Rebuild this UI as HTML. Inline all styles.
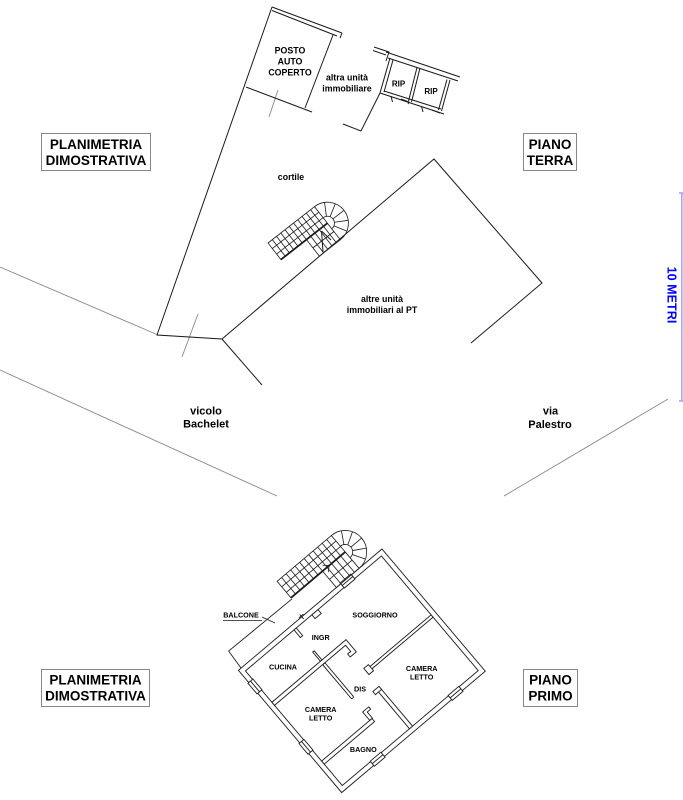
<!DOCTYPE html>
<html><head><meta charset="utf-8"><style>
html,body{margin:0;padding:0;background:#fff;}
svg{display:block;}
text{font-family:"Liberation Sans",Arial,sans-serif;font-weight:bold;fill:#000;}
</style></head><body>
<svg width="683" height="800" viewBox="0 0 683 800" xmlns="http://www.w3.org/2000/svg">
<rect width="683" height="800" fill="#fff"/>

<!-- ===== PIANO TERRA ===== -->
<g fill="none" stroke="#888" stroke-width="0.9">
  <path d="M0,267 L158,335"/>
  <path d="M0,370 L277,496"/>
  <path d="M504,496 L668,399"/>
  <path d="M278,90 L269,117"/>
  <path d="M198,314 L182,357"/>
</g>
<g fill="none" stroke="#1a1a1a" stroke-width="1">
  <path d="M272,7 L157,335 L222,339 L262,385"/>
  <path d="M272,7 L342,33 M272,10.5 L337,36 M342,33 L340,38"/>
  <path d="M333,35 L305,108"/>
  <path d="M246,87 L312,112"/>
  <path d="M222,339 L434,159 L542,283 L471,343"/>
  <!-- altra unita boundary -->
  <path d="M343,124 L361,131 L380,93"/>
  <!-- RIP block -->
  <path d="M374,47 L389,52 L386,61 M373,50.5 L386,55"/>
  <path d="M386,52 L460,77 M388,58 L458,81"/>
  <path d="M390,58 L380,93 M393,60 L384,92"/>
  <path d="M380,93 L444,114 M384,91 L441,109"/>
  <path d="M420,68 L411.5,102 M417,67.5 L408.5,101"/>
  <path d="M450,80 L441.5,111 M447,79.5 L438.5,110"/>
  <path d="M391,96 L392.5,102 M401,99 L409,102 L408,104 M421.5,106.5 L423,112 M432,110 L440,113"/>
  <!-- small arrow under stair -->
  <path d="M321.5,231 L323,252 M321.5,231 L331,240"/>
</g>

<!-- upper stair -->
<g transform="translate(268,243) rotate(-38)" fill="none" stroke="#1a1a1a" stroke-width="0.8">
  <path d="M0,0 H59 V21 H0 Z"/>
  <path d="M5.4,0V21M10.8,0V21M16.2,0V21M21.6,0V21M27,0V21M32.4,0V21M37.8,0V21M43.2,0V21M48.6,0V21M54,0V21"/>
  <path d="M0,7H59M0,14H59"/>
  <path d="M32.4,21V42H59V21M37.8,21V42M43.2,21V42M48.6,21V42M54,21V42M32.4,31.5H59"/>
  <path d="M59,0 A21,21 0 0 1 59,42"/>
  <path d="M59,14 A7,7 0 0 1 59,28"/>
  <path d="M62.5,14.9L69.5,2.8M65.1,17.5L77.2,10.5M66,21L80,21M65.1,24.5L77.2,31.5M62.5,27.1L69.5,39.2"/>
  <path d="M0,21H59" stroke-width="1.8"/>
</g>

<!-- ===== PIANO PRIMO building ===== -->
<g transform="translate(382,549) rotate(49.8)" fill="none" stroke="#1a1a1a" stroke-width="0.9">
  <rect x="0" y="0" width="160" height="188"/>
  <rect x="5" y="5" width="150" height="178"/>
  <!-- balcony -->
  <path d="M-20,101 L-21,183 L0,184.5"/>
  <!-- interior walls -->
  <g fill="#fff">
    <rect x="82" y="5" width="3" height="81"/>
    <rect x="79.5" y="85" width="8" height="6"/>
    <rect x="105" y="91" width="50" height="4"/>
    <rect x="103" y="91" width="4" height="8"/>
    <path d="M46,183 V86 H62 V94 H58 V90 H50 V183 Z"/>
    <rect x="50" y="117" width="45" height="3" rx="1.5"/>
    <rect x="34" y="117.5" width="12" height="2"/>
    <rect x="5" y="116.5" width="10" height="3"/>
    <rect x="123" y="117" width="4" height="66"/>
    <path d="M112,112 H115 V116.5 H123 V120 H112 Z"/>
    <rect x="5" y="88" width="5" height="8"/>
    <!-- windows -->
    <rect x="154.5" y="30" width="6.5" height="14"/>
    <rect x="154.5" y="132" width="6.5" height="14"/>
    <rect x="95" y="182.5" width="14" height="6.5"/>
    <rect x="16" y="182.5" width="14" height="6.5"/>
    <rect x="-1" y="40" width="6.5" height="14"/>
  </g>
  <path d="M157.7,30V44M157.7,132V146M95,185.7H109M16,185.7H30M2.2,40V54"/>
  <path d="M-3,105 H3 M-1,102 V108"/>
  <!-- lower stair -->
  <g transform="translate(-43,101) rotate(-90)" stroke-width="0.8">
    <path d="M0,0 H71 V21.5 H0 Z" fill="#fff"/>
    <path d="M5.9,0V21.5M11.8,0V21.5M17.7,0V21.5M23.6,0V21.5M29.5,0V21.5M35.4,0V21.5M41.3,0V21.5M47.2,0V21.5M53.1,0V21.5M59,0V21.5M64.9,0V21.5"/>
    <path d="M0,7.2H71M0,14.3H71"/>
    <path d="M41.3,21.5V43H71V21.5M47.2,21.5V43M53.1,21.5V43M59,21.5V43M64.9,21.5V43M41.3,32.2H71"/>
    <path d="M71,0 A21.5,21.5 0 0 1 71,43"/>
    <path d="M71,14 A7.5,7.5 0 0 1 71,29"/>
    <path d="M74.8,15L81.8,2.9M77.5,17.8L89.6,10.8M78.5,21.5L92.5,21.5M77.5,25.2L89.6,32.2M74.8,28L81.8,40.1"/>
    <path d="M0,21.5H71" stroke-width="1.8"/>
    <path d="M45,26 L50,21.5 L45,17" stroke-width="0.8"/>
  </g>
</g>
<!-- balcone label -->
<path d="M223,620.5 H262 M262,617 L275,623" stroke="#1a1a1a" stroke-width="0.7" fill="none"/>

<!-- scale bar -->
<path d="M681.8,193 V401 M679,193 H683 M679,401 H683" stroke="#a0a0ff" stroke-width="1.5" fill="none"/>
<text transform="translate(672,295) rotate(90)" text-anchor="middle" y="4.5" font-size="12.6" style="fill:#0000ff">10 METRI</text>

<!-- label boxes -->
<g fill="#fff" stroke="#888" stroke-width="1">
  <rect x="41.5" y="133.5" width="109" height="37"/>
  <rect x="523.5" y="133.5" width="53" height="37"/>
  <rect x="41.5" y="669.5" width="108" height="37"/>
  <rect x="523.5" y="669.5" width="54" height="37"/>
</g>
<g font-size="13.5" text-anchor="middle">
  <text x="96" y="149">PLANIMETRIA</text>
  <text x="96" y="165">DIMOSTRATIVA</text>
  <text x="550" y="149">PIANO</text>
  <text x="550" y="165">TERRA</text>
  <text x="95.5" y="684.5">PLANIMETRIA</text>
  <text x="95.5" y="700.5">DIMOSTRATIVA</text>
  <text x="550.5" y="684.5">PIANO</text>
  <text x="550.5" y="700.5">PRIMO</text>
</g>

<g font-size="8.8" text-anchor="middle">
  <text x="290" y="53.5">POSTO</text>
  <text x="290" y="64.5">AUTO</text>
  <text x="290" y="75.5">COPERTO</text>
  <text x="347" y="80.5">altra unità</text>
  <text x="347" y="91.5">immobiliare</text>
  <text x="291" y="180">cortile</text>
  <text x="382" y="302">altre unità</text>
  <text x="382" y="313">immobiliari al PT</text>
</g>
<g font-size="8" text-anchor="middle">
  <text x="398.5" y="86.5">RIP</text>
  <text x="431" y="94">RIP</text>
</g>
<g font-size="11" text-anchor="middle">
  <text x="206" y="414.5">vicolo</text>
  <text x="206" y="427.5">Bachelet</text>
  <text x="550.5" y="414.5">via</text>
  <text x="550" y="428">Palestro</text>
</g>
<g font-size="7.2" text-anchor="middle">
  <text x="375" y="617.6">SOGGIORNO</text>
  <text x="320.7" y="640">INGR</text>
  <text x="283" y="669.6">CUCINA</text>
  <text x="360" y="691.6">DIS</text>
  <text x="421.7" y="671">CAMERA</text>
  <text x="421.7" y="679.5">LETTO</text>
  <text x="320.7" y="712">CAMERA</text>
  <text x="320.7" y="720.5">LETTO</text>
  <text x="363.3" y="752">BAGNO</text>
  <text x="241" y="617.6">BALCONE</text>
</g>
</svg>
</body></html>
